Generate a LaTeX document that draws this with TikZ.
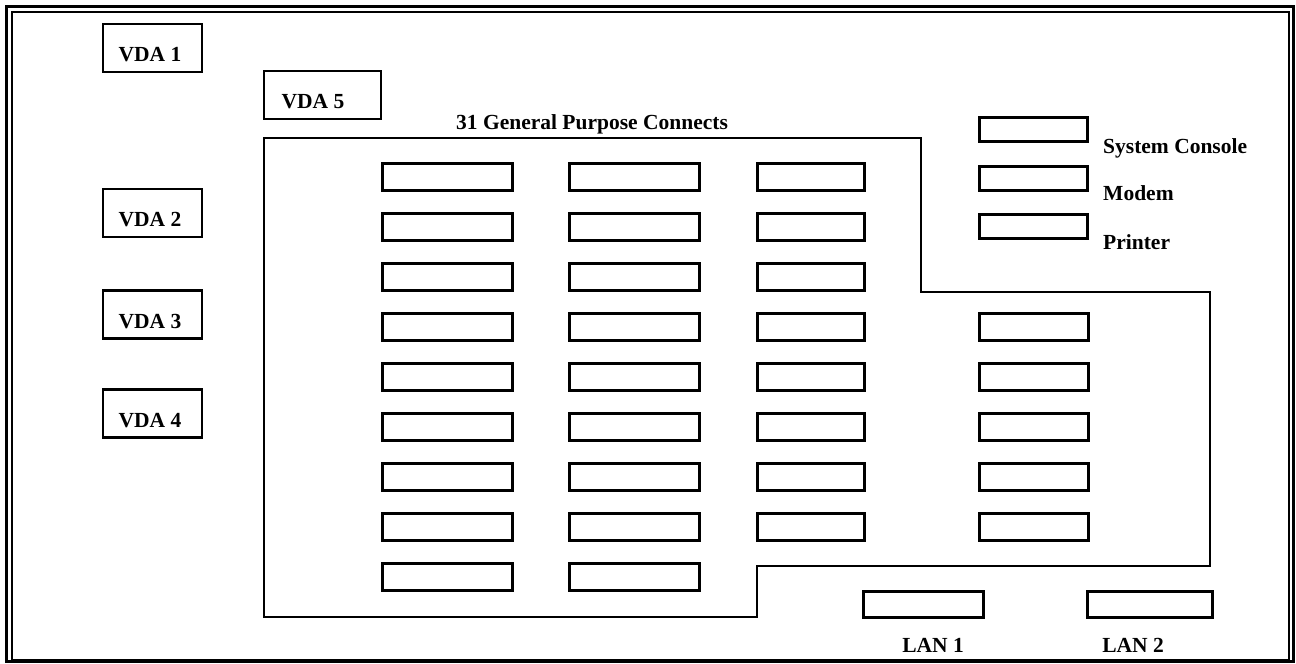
\documentclass[tikz,border=0pt]{standalone}
\usepackage{fontspec}
\setmainfont{Liberation Serif}
\begin{document}
\begin{tikzpicture}[x=1pt,y=-1pt,
  lbl/.style={font=\fontsize{21.5}{24}\selectfont\bfseries, inner sep=0pt},
  vdabox/.style={draw, line width=2.8pt, minimum width=99pt, minimum height=48pt, inner sep=0pt},
  portA/.style={draw, line width=3pt, minimum width=130pt, minimum height=27pt, inner sep=0pt},
  portB/.style={draw, line width=3pt, minimum width=107pt, minimum height=27pt, inner sep=0pt},
  portC/.style={draw, line width=3pt, minimum width=108pt, minimum height=24pt, inner sep=0pt},
  lanbox/.style={draw, line width=3pt, minimum width=120pt, minimum height=26pt, inner sep=0pt},
  frameouter/.style={draw, line width=3pt},
  frameinner/.style={draw, line width=2pt},
  region/.style={draw, line width=2.8pt, line join=miter}]
\useasboundingbox (0,0) rectangle (1296,664);
% frame
\draw[frameouter] (6,6) rectangle (1293.5,661);
\draw[frameinner] (12,12) rectangle (1289,660);
% VDA boxes
\node[vdabox] (vda1) at (152.5,48) {};
\node[lbl] (vda1t) at (150,55) {VDA 1};
\node[vdabox, minimum width=117pt] (vda5) at (322.5,95) {};
\node[lbl] (vda5t) at (313,102) {VDA 5};
\node[vdabox] (vda2) at (152.5,213) {};
\node[lbl] (vda2t) at (150,220) {VDA 2};
\node[vdabox] (vda3) at (152.5,314.5) {};
\node[lbl] (vda3t) at (150,321.5) {VDA 3};
\node[vdabox] (vda4) at (152.5,413.5) {};
\node[lbl] (vda4t) at (150,420.5) {VDA 4};
% general purpose region
\draw[region] (264,138) -- (921,138) -- (921,292) -- (1210,292) -- (1210,566)
  -- (757,566) -- (757,617) -- (264,617) -- cycle;
\node[lbl] (gpc) at (592,124) {31 General Purpose Connects};
% ports
\foreach \i in {1,...,9} {
  \node[portA] (a\i) at (447,{176.5+50*(\i-1)}) {};
  \node[portA] (b\i) at (634,{176.5+50*(\i-1)}) {};
}
\foreach \i in {1,...,8} {
  \node[portB] (c\i) at (810.5,{176.5+50*(\i-1)}) {};
}
\foreach \i in {4,...,8} {
  \node[portB, minimum width=109pt] (d\i) at (1033.5,{176.5+50*(\i-1)}) {};
}
% system ports
\node[portC] (sc) at (1033.5,129) {};
\node[lbl, anchor=west] (sct) at (1103,148) {System Console};
\node[portC] (mo) at (1033.5,178) {};
\node[lbl, anchor=west] (mot) at (1103,193) {Modem};
\node[portC] (pr) at (1033.5,226.5) {};
\node[lbl, anchor=west] (prt) at (1103,242) {Printer};
% LAN
\node[lanbox] (lan1) at (923,604) {};
\node[lbl] (lan1t) at (933,645) {LAN 1};
\node[lanbox, minimum width=125pt] (lan2) at (1149.5,604) {};
\node[lbl] (lan2t) at (1133,645) {LAN 2};
\end{tikzpicture}
\end{document}
